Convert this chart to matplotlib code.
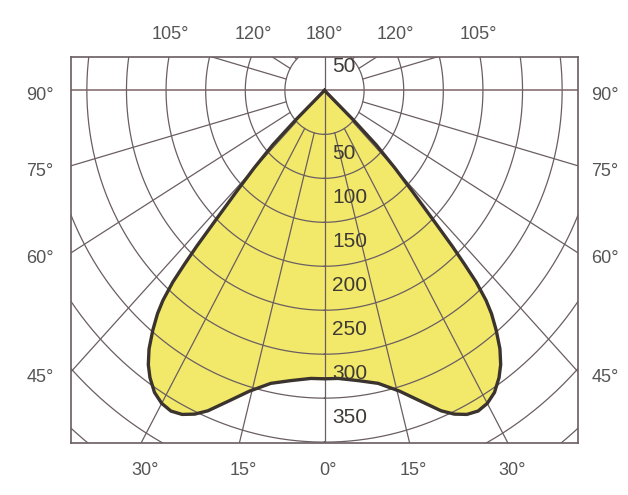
import numpy as np
import matplotlib
matplotlib.use("Agg")
import matplotlib.pyplot as plt
import matplotlib.transforms as mtransforms

plt.rcParams['font.family'] = ['Liberation Sans', 'DejaVu Sans']

# luminous intensity curve, one half (symmetric), angle from nadir in degrees
curve_angle = [0, 3, 7.5, 11.5, 15.5, 19, 22, 24, 26, 28, 30, 32, 34, 35.5, 37, 38.5,
               39.7, 40.5, 41.3, 41.8, 42.3, 43, 44, 45.2, 46.5, 47.3, 48]
curve_cd = [328, 328, 333, 340, 355, 374, 393, 403, 410, 413, 411, 405, 394, 383, 368, 348,
            330, 314, 290, 265, 240, 200, 160, 125, 90, 50, 0]

rings = [50, 100, 150, 200, 250, 300, 350, 400, 450, 500, 550, 600]
ring_labels = ["50", "100", "150", "200", "250", "300", "350"]
ray_angles = [15, 30, 45, 60, 75, 105, 120, 135, 150, 165]
bottom_ticks = [30, 15, 0, 15, 30]
side_ticks = [90, 75, 60, 45]
top_ticks = [105, 120, 180, 120, 105]

grid_col = "#6a5e62"
text_col = "#555555"

fig = plt.figure(figsize=(6.28, 4.95), dpi=100)
ax = fig.add_axes([71 / 628, (495 - 443) / 495, (578 - 71) / 628, (443 - 57) / 495])
ax.set_xlim(-320, 320)
ax.set_ylim(401, -38)
ax.set_xticks([])
ax.set_yticks([])
for s in ax.spines.values():
    s.set_color(grid_col)
    s.set_linewidth(1.2)

# curve
th = np.radians(curve_angle)
I = np.array(curve_cd)
xs = np.concatenate([(I * np.sin(th))[::-1], -I * np.sin(th)])
ys = np.concatenate([(I * np.cos(th))[::-1], I * np.cos(th)])
ax.fill(xs, ys, color="#f2e96a", zorder=1, lw=0)
ax.plot(xs, ys, color="#3a332e", lw=2.4, zorder=4, solid_joinstyle="round")

# grid circles
t = np.linspace(0, 2 * np.pi, 721)
for r in rings:
    ax.plot(r * np.sin(t), r * np.cos(t), color=grid_col, lw=0.9, zorder=2)

# rays starting from first ring
for a in ray_angles:
    ar = np.radians(a)
    for sgn in (-1, 1):
        ax.plot([sgn * 50 * np.sin(ar), sgn * 900 * np.sin(ar)],
                [50 * np.cos(ar), 900 * np.cos(ar)], color=grid_col, lw=0.9, zorder=2)
ax.axvline(0, color=grid_col, lw=0.9, zorder=2)
ax.axhline(0, color="#7d6464", lw=1.1, zorder=2)

# intensity labels
for lab in ring_labels:
    ax.text(10, int(lab) + 22, lab, ha="left", va="center", fontsize=15,
            color="#3f3a36", zorder=5)
ax.text(10, -27, "50", ha="left", va="center", fontsize=15, color="#3f3a36", zorder=5)

# angle labels
bot = mtransforms.blended_transform_factory(ax.transData, ax.transAxes)
for i, a in enumerate(bottom_ticks):
    sgn = -1 if i < 2 else 1
    x = sgn * 401 * np.tan(np.radians(a))
    ax.text(x + 5, -0.07, f"{a}°", transform=bot, ha="center", va="center",
            fontsize=13, color=text_col)

top_x = [-194, -90, 0, 90, 194]
for x, a in zip(top_x, top_ticks):
    ax.text(x, 1.057, f"{a}°", transform=bot, ha="center", va="center",
            fontsize=13, color=text_col)

side = mtransforms.blended_transform_factory(ax.transAxes, ax.transData)
for a in side_ticks:
    y = 0 if a == 90 else 320 / np.tan(np.radians(a))
    y += 6
    ax.text(-0.061, y, f"{a}°", transform=side, ha="center", va="center",
            fontsize=13, color=text_col)
    ax.text(1.053, y, f"{a}°", transform=side, ha="center", va="center",
            fontsize=13, color=text_col)

fig.savefig("out.png", dpi=100)
